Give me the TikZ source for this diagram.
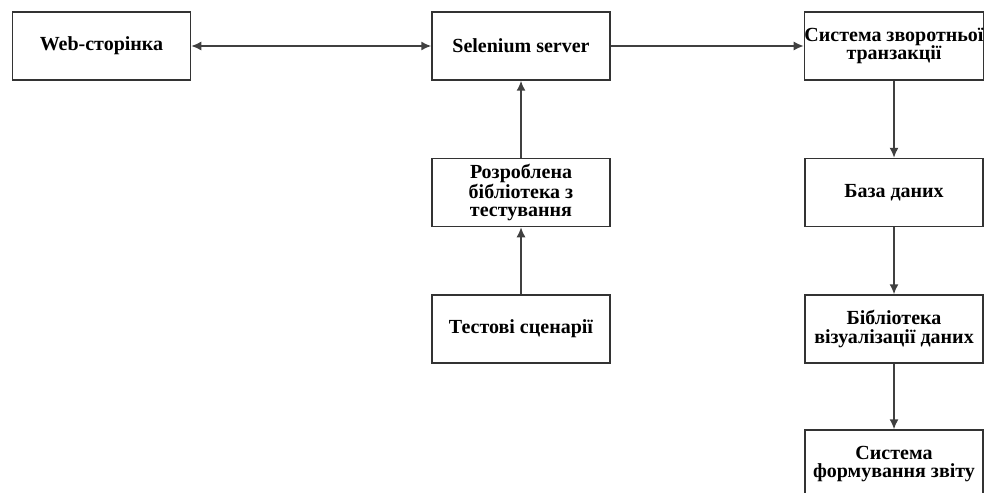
\documentclass[tikz,border=0pt]{standalone}
\usepackage{fontspec}
\setmainfont{Liberation Serif}
\usetikzlibrary{arrows.meta}
\begin{document}
\begin{tikzpicture}[x=1pt,y=-1pt,
  box/.style={draw=black!80, line width=1.5pt, minimum width=178pt, minimum height=68pt,
    inner sep=0pt, align=center, font=\fontsize{20}{18.5}\selectfont\bfseries},
  conn/.style={draw=black!75, line width=1.5pt, -{Latex[length=10pt,width=9pt]}},
  conn2/.style={draw=black!75, line width=1.5pt, {Latex[length=10pt,width=9pt]}-{Latex[length=10pt,width=9pt]}}]
\useasboundingbox (0,0) rectangle (984,492);
\clip (0,0) rectangle (984,492);
\node[box] (web)  at (101.5,46) {Web-сторінка};
\node[box] (sel)  at (521,46) {Selenium server};
\node[box] (sys)  at (894,46) {Система зворотньої\\транзакції};
\node[box] (roz)  at (521,192.5) {Розроблена\\бібліотека з\\тестування};
\node[box] (test) at (521,329) {Тестові сценарії};
\node[box] (baza) at (894,192.5) {База даних};
\node[box] (bib)  at (894,329) {Бібліотека\\візуалізації даних};
\node[box] (form) at (894,464) {Система\\формування звіту};
\draw[conn2] (web) -- (sel);
\draw[conn] (sel) -- (sys);
\draw[conn] (roz) -- (sel);
\draw[conn] (test) -- (roz);
\draw[conn] (sys) -- (baza);
\draw[conn] (baza) -- (bib);
\draw[conn] (bib) -- (form);
\end{tikzpicture}
\end{document}
